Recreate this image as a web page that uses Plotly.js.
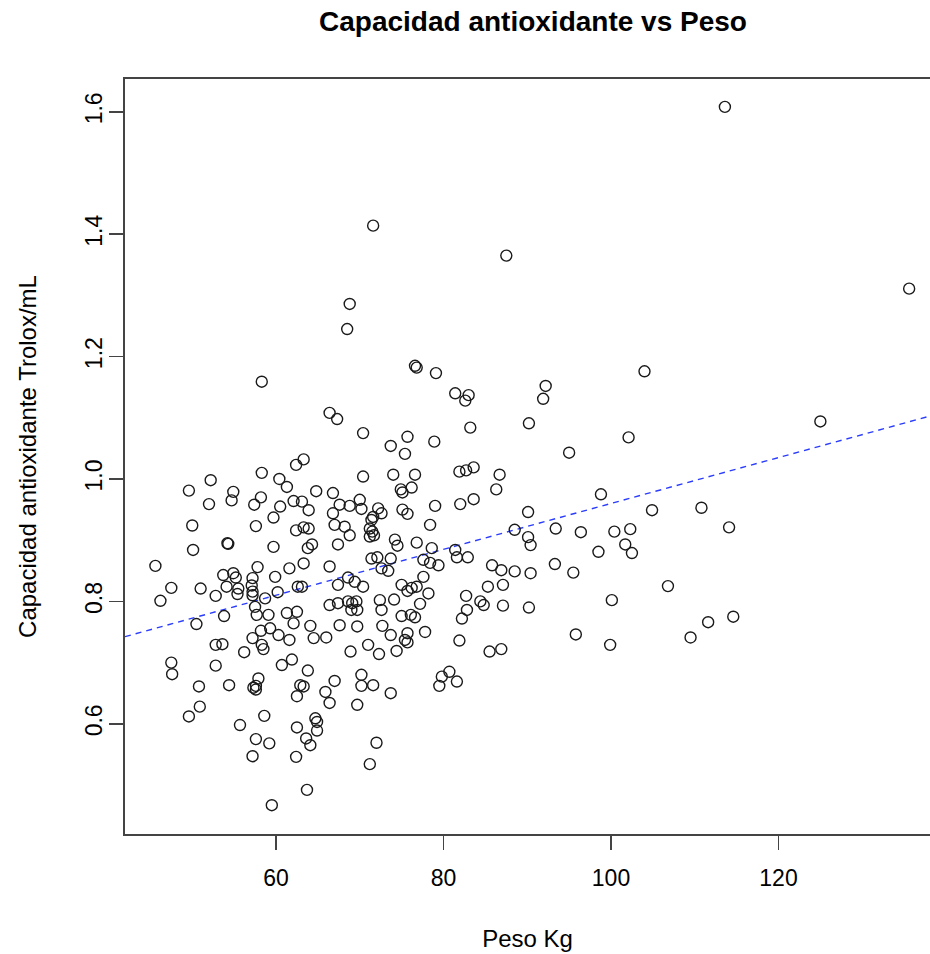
<!DOCTYPE html>
<html>
<head>
<meta charset="utf-8">
<script src="https://cdn.plot.ly/plotly-3.0.1.min.js"></script>
<style>html,body{margin:0;padding:0;background:#fff;overflow:hidden}</style>
</head>
<body>
<div id="chart" style="width:930px;height:954px"></div>
<script>
// Peso (kg) of each subject
const pesoKg = [
63.3,62.4,58.3,52.2,60.4,61.3,49.6,64.8,54.9,54.7,58.2,52.0,57.4,62.1,63.1,60.5,63.9,59.7,50.0,57.6,
62.4,63.3,63.9,54.2,54.3,59.7,63.8,64.3,50.1,45.6,57.8,61.6,63.3,53.7,54.9,55.2,57.2,59.9,47.5,51.0,
54.1,55.5,57.1,57.2,62.6,63.1,52.8,55.4,57.2,60.2,58.7,46.2,57.5,61.3,62.5,57.7,59.1,53.8,
50.5,62.1,64.1,58.2,59.3,57.2,60.3,61.6,64.5,52.8,53.6,58.3,58.5,56.2,47.5,47.6,52.8,60.7,61.9,63.8,
50.8,54.4,57.9,57.3,57.6,57.6,62.9,63.3,62.5,50.9,49.6,58.6,55.7,64.7,64.9,62.5,64.9,63.6,64.1,57.6,
59.2,57.2,62.4,63.7,59.5,
73.7,75.4,78.9,70.4,74.0,76.6,81.9,82.7,83.6,86.7,86.3,66.8,74.9,75.1,76.2,67.6,68.8,70.0,70.2,66.8,
72.2,72.6,71.6,75.1,75.7,79.0,82.0,83.6,67.0,68.2,68.8,71.4,71.2,71.5,71.2,71.7,78.4,67.4,74.2,74.5,
76.8,78.6,81.4,81.6,82.9,88.5,66.4,71.4,72.1,73.7,72.6,73.4,77.6,78.4,79.4,85.8,86.9,88.5,67.4,68.6,
69.4,70.4,75.0,75.7,76.2,76.8,77.6,78.2,85.3,87.1,66.4,67.4,68.6,69.1,69.6,69.0,69.7,72.4,72.6,74.1,
77.2,82.7,84.4,84.8,87.1,82.8,
75.0,76.1,76.6,82.2,67.6,69.7,72.7,73.7,75.7,75.4,75.7,77.8,66.0,71.0,68.9,72.3,74.4,81.9,85.5,86.9,
67.0,70.2,70.2,71.6,73.7,65.9,66.4,69.7,79.5,79.8,80.7,81.6,72.0,71.2,
71.6,87.5,68.8,68.5,58.3,76.6,76.8,79.1,81.4,83.0,82.6,66.4,67.3,83.2,70.4,75.7,
113.6,135.6,104.0,92.2,91.9,90.2,102.1,95.0,125.0,
98.8,90.1,104.9,110.8,114.1,90.1,90.4,93.4,96.4,100.4,102.3,101.7,102.5,98.5,90.4,93.3,95.5,106.8,90.2,100.1,
114.6,111.6,109.5,95.8,99.9
];
// Capacidad antioxidante (Trolox/mL) of each subject
const trolox = [
1.032,1.023,1.010,0.998,1.000,0.987,0.981,0.980,0.979,0.965,0.970,0.959,0.958,0.964,0.963,0.955,0.949,0.937,0.924,0.923,
0.916,0.921,0.919,0.895,0.894,0.889,0.887,0.893,0.884,0.858,0.856,0.854,0.862,0.843,0.846,0.839,0.838,0.840,0.822,0.821,
0.824,0.821,0.826,0.816,0.824,0.824,0.809,0.812,0.810,0.815,0.805,0.801,0.791,0.781,0.783,0.778,0.778,0.776,
0.763,0.764,0.760,0.752,0.756,0.740,0.745,0.737,0.740,0.729,0.730,0.729,0.722,0.717,0.700,0.681,0.695,0.696,0.705,0.687,
0.661,0.663,0.674,0.659,0.662,0.656,0.663,0.661,0.645,0.628,0.612,0.613,0.598,0.609,0.603,0.594,0.589,0.576,0.565,0.575,
0.568,0.547,0.546,0.492,0.467,
1.054,1.041,1.061,1.004,1.007,1.007,1.012,1.014,1.019,1.007,0.983,0.977,0.983,0.978,0.986,0.958,0.956,0.966,0.951,0.944,
0.952,0.944,0.938,0.950,0.943,0.956,0.959,0.967,0.925,0.922,0.908,0.933,0.919,0.914,0.906,0.908,0.925,0.893,0.901,0.891,
0.896,0.887,0.884,0.872,0.872,0.917,0.857,0.870,0.872,0.870,0.854,0.850,0.868,0.863,0.859,0.859,0.851,0.849,0.827,0.839,
0.832,0.824,0.827,0.817,0.822,0.824,0.840,0.813,0.824,0.827,0.794,0.797,0.800,0.797,0.800,0.786,0.786,0.802,0.786,0.803,
0.796,0.809,0.800,0.794,0.793,0.786,
0.776,0.778,0.774,0.772,0.761,0.759,0.760,0.745,0.748,0.737,0.733,0.750,0.741,0.729,0.718,0.714,0.719,0.736,0.718,0.722,
0.670,0.680,0.662,0.663,0.650,0.652,0.634,0.631,0.662,0.677,0.685,0.669,0.569,0.534,
1.414,1.365,1.286,1.245,1.159,1.185,1.182,1.173,1.140,1.137,1.128,1.108,1.098,1.084,1.075,1.069,
1.608,1.311,1.176,1.152,1.131,1.091,1.068,1.043,1.094,
0.975,0.946,0.949,0.953,0.921,0.905,0.892,0.919,0.913,0.914,0.918,0.893,0.879,0.881,0.846,0.861,0.847,0.825,0.790,0.802,
0.775,0.766,0.741,0.746,0.729
];
// Fitted regression line (abline): intercept and slope
const fitIntercept = 0.585;
const fitSlope = 0.00375;
const xTicks = [60, 80, 100, 120];
const yTicks = [0.6, 0.8, 1.0, 1.2, 1.4, 1.6];
const yTickText = ['0.6', '0.8', '1.0', '1.2', '1.4', '1.6'];

const xRange = [41.97, 138.09];
const yRange = [0.4199, 1.6536];

const pts = {
  x: pesoKg, y: trolox, type: 'scatter', mode: 'markers',
  marker: {symbol: 'circle-open', size: 11, color: '#1a1a1a', line: {width: 1.4, color: '#1a1a1a'}},
  hoverinfo: 'x+y', showlegend: false
};
const lineX = [xRange[0], xRange[1]];
const fit = {
  x: lineX, y: lineX.map(v => fitIntercept + fitSlope * v), type: 'scatter', mode: 'lines',
  line: {color: '#2a3cff', width: 1.4, dash: '6px,5px'}, showlegend: false, hoverinfo: 'skip'
};

const fontFam = '"Liberation Sans", Arial, Helvetica, sans-serif';
const layout = {
  width: 930, height: 954,
  margin: {l: 125, r: 0, t: 79, b: 120},
  paper_bgcolor: '#fff', plot_bgcolor: '#fff',
  font: {family: fontFam, color: '#000'},
  title: {text: '<b>Capacidad antioxidante vs Peso</b>', font: {family: fontFam, size: 28, color: '#000'},
          x: 533/930, xanchor: 'center', y: 1 - 21/954, yanchor: 'middle'},
  xaxis: {
    range: xRange, tickvals: xTicks, ticktext: xTicks.map(String),
    ticks: 'outside', ticklen: 14, tickwidth: 1.6, tickcolor: '#444',
    showline: true, linecolor: '#444', linewidth: 1.6, mirror: true,
    showgrid: false, zeroline: false, tickfont: {size: 23, family: fontFam},
    ticklabelstandoff: 9,
    title: {text: 'Peso Kg', font: {size: 24, family: fontFam}, standoff: 40}
  },
  yaxis: {
    range: yRange, tickvals: yTicks, ticktext: yTickText, tickangle: -90,
    ticks: 'outside', ticklen: 14, tickwidth: 1.6, tickcolor: '#444',
    showline: true, linecolor: '#444', linewidth: 1.6, mirror: false,
    showgrid: false, zeroline: false, tickfont: {size: 23, family: fontFam},
    ticklabelstandoff: -2,
    title: {text: 'Capacidad antioxidante Trolox/mL', font: {size: 24, family: fontFam}, standoff: 38}
  }
};
Plotly.newPlot('chart', [fit, pts], layout, {displayModeBar: false, staticPlot: true});
</script>
</body>
</html>
